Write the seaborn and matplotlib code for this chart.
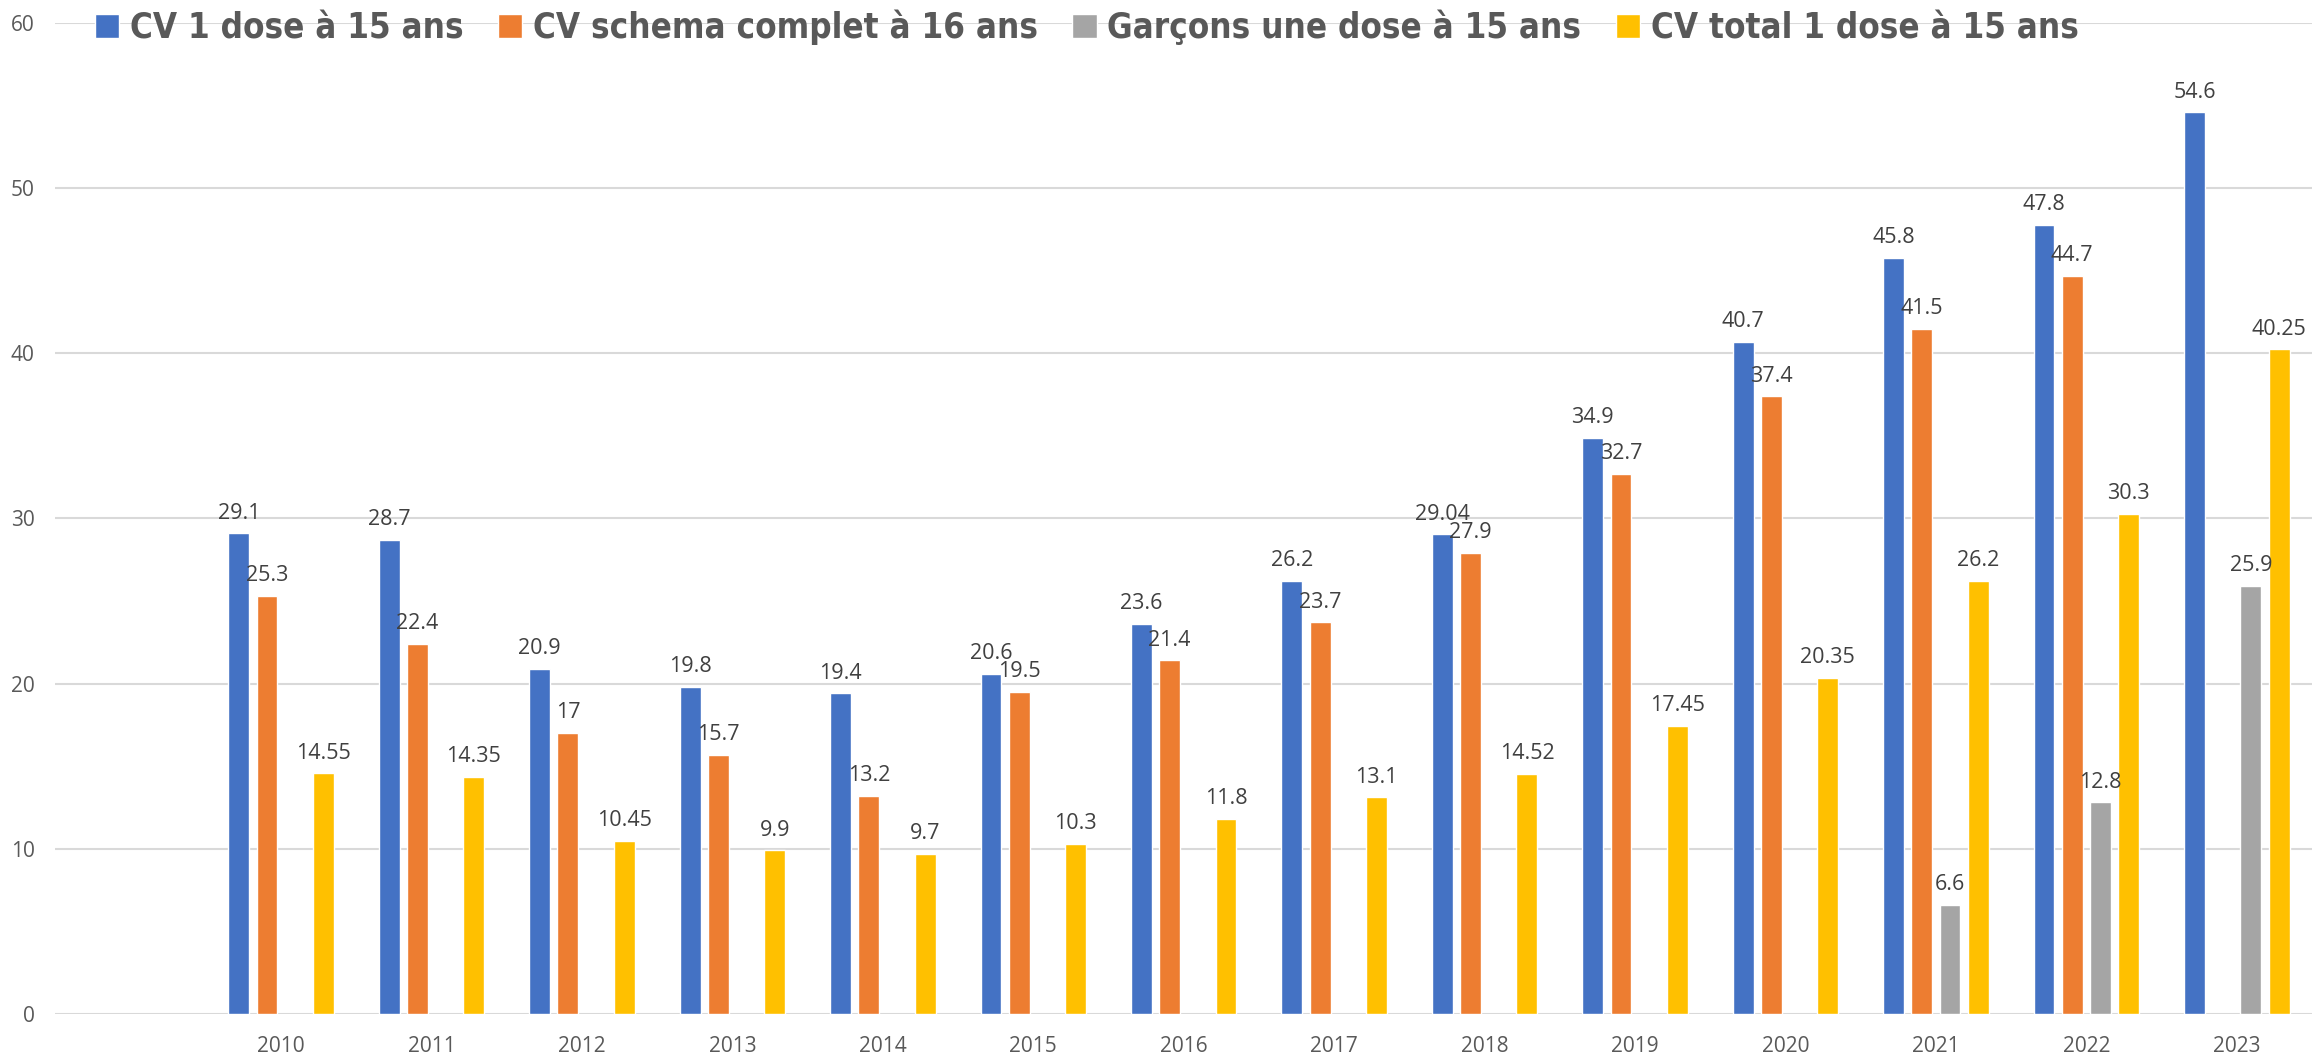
import numpy as np
import pandas as pd
import matplotlib
matplotlib.use("Agg")
import matplotlib.pyplot as plt
import seaborn as sns

# Data (first slot is an empty category on the axis)
years = ["", "2010", "2011", "2012", "2013", "2014", "2015", "2016",
         "2017", "2018", "2019", "2020", "2021", "2022", "2023"]
nan = np.nan
cv_1dose = [nan, 29.1, 28.7, 20.9, 19.8, 19.4, 20.6, 23.6, 26.2, 29.04,
            34.9, 40.7, 45.8, 47.8, 54.6]
cv_complet = [nan, 25.3, 22.4, 17, 15.7, 13.2, 19.5, 21.4, 23.7, 27.9,
              32.7, 37.4, 41.5, 44.7, nan]
garcons = [nan, nan, nan, nan, nan, nan, nan, nan, nan, nan,
           nan, nan, 6.6, 12.8, 25.9]
cv_total = [nan, 14.55, 14.35, 10.45, 9.9, 9.7, 10.3, 11.8, 13.1, 14.52,
            17.45, 20.35, 26.2, 30.3, 40.25]

series = ["CV 1 dose à 15 ans", "CV schema complet à 16 ans",
          "Garçons une dose à 15 ans", "CV total 1 dose à 15 ans"]
colors = ["#4472C4", "#ED7D31", "#A5A5A5", "#FFC000"]

df = pd.concat([
    pd.DataFrame({"annee": years, "valeur": vals, "serie": name})
    for name, vals in zip(series, [cv_1dose, cv_complet, garcons, cv_total])
], ignore_index=True)

sns.set_style("white")
plt.rcParams["font.family"] = ["Open Sans", "DejaVu Sans"]

fig = plt.figure(figsize=(23.12, 10.57), dpi=100)
ax = fig.add_axes([0.024, 0.041, 0.976, 0.937])

sns.barplot(data=df, x="annee", y="valeur", hue="serie", order=years,
            hue_order=series, palette=colors, width=0.75, gap=0.26,
            saturation=1, errorbar=None, legend=True, ax=ax)

for c in ax.containers:
    labs = ["" if np.isnan(v) else f"{v:g}" for v in c.datavalues]
    ax.bar_label(c, labels=labs, padding=7, fontsize=15.5, color="#404040")

ax.set_xlim(-0.5, len(years) - 0.5)
ax.set_ylim(0, 60)
ax.set_yticks(range(0, 61, 10))
ax.yaxis.grid(True, color="#D9D9D9", linewidth=1.5)
ax.set_axisbelow(True)
for s in ax.spines.values():
    s.set_visible(False)
ax.set_xlabel("")
ax.set_ylabel("")
ax.tick_params(axis="x", length=0, pad=16, labelsize=15, labelcolor="#595959")
ax.tick_params(axis="y", length=0, pad=15, labelsize=15, labelcolor="#595959")

handles, labels = ax.get_legend_handles_labels()
ax.get_legend().remove()
fig.legend(handles, labels, loc="center", bbox_to_anchor=(0.47, 0.974),
           ncol=4, frameon=False, handlelength=0.7, handleheight=0.7,
           handletextpad=0.3, columnspacing=1.0,
           prop={"family": "DejaVu Sans", "stretch": "condensed",
                 "weight": "bold", "size": 25},
           labelcolor="#595959")

fig.savefig("out.png", dpi=100)
